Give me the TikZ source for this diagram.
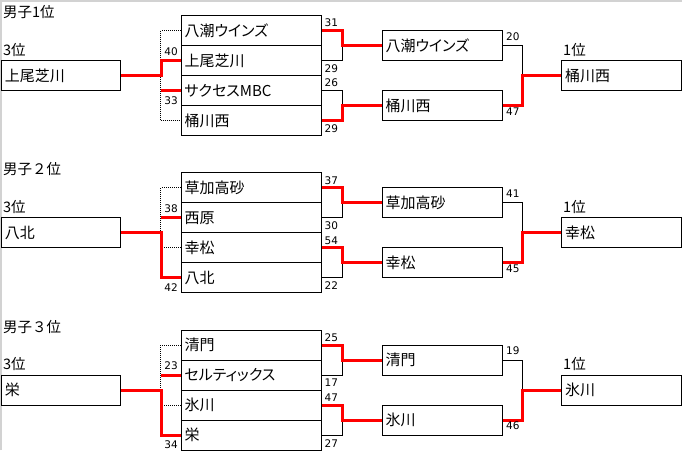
\documentclass[tikz,border=0pt]{standalone}
\usepackage{fontspec}
\usetikzlibrary{calc}
\newfontfamily\jp[RawFeature=+palt]{Noto Sans CJK JP}
\newfontfamily\jpw{Noto Sans CJK JP}
\newfontfamily\dv{DejaVu Sans}
\begin{document}
\begin{tikzpicture}[x=1pt,y=-1pt,
  box/.style={draw, line width=1pt, minimum height=30pt, inner xsep=3.5pt, inner ysep=0pt,
    align=left, anchor=north west, font=\jp\fontsize{15}{17}\selectfont},
  wa/.style={box, text width=133pt},
  wb/.style={box, text width=113pt},
  wl/.style={box, text width=112pt},
  hdr/.style={anchor=west, inner sep=0pt, font=\jpw\fontsize{14.5}{16}\selectfont},
  score/.style={inner sep=0pt, font=\dv\fontsize{10.5}{12}\selectfont},
  win/.style={draw=red, line width=3pt, line join=miter},
  lose/.style={draw=black, line width=1pt},
  dots/.style={draw=black, line width=0.8pt, dash pattern=on 1pt off 1pt}]
\useasboundingbox (0,0) rectangle (682,450);
\draw[gray!35, line width=1.5pt] (0.75,450) -- (0.75,0.75) -- (682,0.75);

% ================= Section 1 =================
\def\yo{15}
\node[hdr] (aH) at (3,\yo-3) {男子1位};
\node[hdr] (a3) at (3,\yo+34.5) {3位};
\node[wl] (aL) at (1,\yo+45) {上尾芝川};
\node[wa] (a1) at (180.5,\yo) {八潮ウインズ};
\node[wa] (a2) at (180.5,\yo+30) {上尾芝川};
\node[wa] (a3r) at (180.5,\yo+60) {サクセスMBC};
\node[wa] (a4) at (180.5,\yo+90) {桶川西};
\node[wb] (aq1) at (381.5,\yo+15) {八潮ウインズ};
\node[wb] (aq2) at (381.5,\yo+75) {桶川西};
\node[hdr] (a1p) at (563,\yo+34.5) {1位};
\node[wb] (aF) at (561,\yo+45) {桶川西};
% third place
\draw[dots] (a1.west) -- ++(-20,0) |- (a4.west);
\draw[win] (a3r.west) -- ++(-20,0);
\draw[win] (aL.east) -- ++(40.5,0) |- (a2.west);
\node[score, anchor=east] at ($(a2.west)+(-2.5,-9)$) {40};
\node[score, anchor=east] at ($(a3r.west)+(-2.5,10)$) {33};
% first round
\draw[lose] (a2.east) -- ++(20.5,0) |- (aq1.west);
\draw[win] (a1.east) -- ++(20.5,0) |- (aq1.west);
\draw[lose] (a3r.east) -- ++(20.5,0) |- (aq2.west);
\draw[win] (a4.east) -- ++(20.5,0) |- (aq2.west);
\node[score, anchor=west] at ($(a1.east)+(3,-7.5)$) {31};
\node[score, anchor=west] at ($(a2.east)+(3,8)$) {29};
\node[score, anchor=west] at ($(a3r.east)+(3,-7.5)$) {26};
\node[score, anchor=west] at ($(a4.east)+(3,8)$) {29};
% final
\draw[lose] (aq1.east) -- ++(19.5,0) |- (aF.west);
\draw[win] (aq2.east) -- ++(19.5,0) |- (aF.west);
\node[score, anchor=west] at ($(aq1.east)+(3.5,-9)$) {20};
\node[score, anchor=west] at ($(aq2.east)+(3.5,6)$) {47};

% ================= Section 2 =================
\def\yo{172.3}
\node[hdr] (bH) at (3,\yo-3) {男子２位};
\node[hdr] (b3) at (3,\yo+34.5) {3位};
\node[wl] (bL) at (1,\yo+45) {八北};
\node[wa] (b1) at (180.5,\yo) {草加高砂};
\node[wa] (b2) at (180.5,\yo+30) {西原};
\node[wa] (b3r) at (180.5,\yo+60) {幸松};
\node[wa] (b4) at (180.5,\yo+90) {八北};
\node[wb] (bq1) at (381.5,\yo+15) {草加高砂};
\node[wb] (bq2) at (381.5,\yo+75) {幸松};
\node[hdr] (b1p) at (563,\yo+34.5) {1位};
\node[wb] (bF) at (561,\yo+45) {幸松};
\draw[dots] (b1.west) -- ++(-20,0) -- ++(0,90);
\draw[dots] (b3r.west) -- ++(-20,0);
\draw[win] (b2.west) -- ++(-20,0);
\draw[win] (bL.east) -- ++(40.5,0) |- (b4.west);
\node[score, anchor=east] at ($(b2.west)+(-2.5,-9)$) {38};
\node[score, anchor=east] at ($(b4.west)+(-2.5,10)$) {42};
\draw[lose] (b2.east) -- ++(20.5,0) |- (bq1.west);
\draw[win] (b1.east) -- ++(20.5,0) |- (bq1.west);
\draw[lose] (b4.east) -- ++(20.5,0) |- (bq2.west);
\draw[win] (b3r.east) -- ++(20.5,0) |- (bq2.west);
\node[score, anchor=west] at ($(b1.east)+(3,-7.5)$) {37};
\node[score, anchor=west] at ($(b2.east)+(3,8)$) {30};
\node[score, anchor=west] at ($(b3r.east)+(3,-7.5)$) {54};
\node[score, anchor=west] at ($(b4.east)+(3,8)$) {22};
\draw[lose] (bq1.east) -- ++(19.5,0) |- (bF.west);
\draw[win] (bq2.east) -- ++(19.5,0) |- (bF.west);
\node[score, anchor=west] at ($(bq1.east)+(3.5,-9)$) {41};
\node[score, anchor=west] at ($(bq2.east)+(3.5,6)$) {45};

% ================= Section 3 =================
\def\yo{329.6}
\node[hdr] (cH) at (3,\yo-3) {男子３位};
\node[hdr] (c3) at (3,\yo+34.5) {3位};
\node[wl] (cL) at (1,\yo+45) {栄};
\node[wa] (c1) at (180.5,\yo) {清門};
\node[wa] (c2) at (180.5,\yo+30) {セルティックス};
\node[wa] (c3r) at (180.5,\yo+60) {氷川};
\node[wa] (c4) at (180.5,\yo+90) {栄};
\node[wb] (cq1) at (381.5,\yo+15) {清門};
\node[wb] (cq2) at (381.5,\yo+75) {氷川};
\node[hdr] (c1p) at (563,\yo+34.5) {1位};
\node[wb] (cF) at (561,\yo+45) {氷川};
\draw[dots] (c1.west) -- ++(-20,0) -- ++(0,90);
\draw[dots] (c3r.west) -- ++(-20,0);
\draw[win] (c2.west) -- ++(-20,0);
\draw[win] (cL.east) -- ++(40.5,0) |- (c4.west);
\node[score, anchor=east] at ($(c2.west)+(-2.5,-9)$) {23};
\node[score, anchor=east] at ($(c4.west)+(-2.5,10)$) {34};
\draw[lose] (c2.east) -- ++(20.5,0) |- (cq1.west);
\draw[win] (c1.east) -- ++(20.5,0) |- (cq1.west);
\draw[lose] (c4.east) -- ++(20.5,0) |- (cq2.west);
\draw[win] (c3r.east) -- ++(20.5,0) |- (cq2.west);
\node[score, anchor=west] at ($(c1.east)+(3,-7.5)$) {25};
\node[score, anchor=west] at ($(c2.east)+(3,8)$) {17};
\node[score, anchor=west] at ($(c3r.east)+(3,-7.5)$) {47};
\node[score, anchor=west] at ($(c4.east)+(3,8)$) {27};
\draw[lose] (cq1.east) -- ++(19.5,0) |- (cF.west);
\draw[win] (cq2.east) -- ++(19.5,0) |- (cF.west);
\node[score, anchor=west] at ($(cq1.east)+(3.5,-9)$) {19};
\node[score, anchor=west] at ($(cq2.east)+(3.5,6)$) {46};
\end{tikzpicture}
\end{document}
